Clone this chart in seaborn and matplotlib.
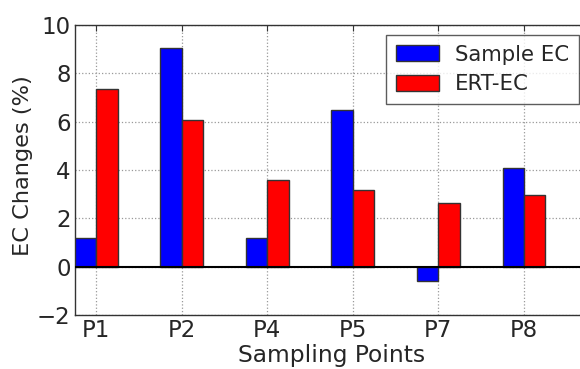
import matplotlib
matplotlib.use("Agg")
import matplotlib.pyplot as plt
import seaborn as sns
import pandas as pd

points = ["P1", "P2", "P4", "P5", "P7", "P8"]
sample_ec = [1.2, 9.05, 1.2, 6.5, -0.58, 4.07]
ert_ec = [7.37, 6.06, 3.61, 3.17, 2.64, 2.95]
series_names = ["Sample EC", "ERT-EC"]
series_colors = ["#0000ff", "#ff0000"]
y_ticks = [-2, 0, 2, 4, 6, 8, 10]

df = pd.DataFrame({
    "point": points * 2,
    "value": sample_ec + ert_ec,
    "series": [series_names[0]] * len(points) + [series_names[1]] * len(points),
})

sns.set_style("white")
plt.rcParams["font.family"] = ["DejaVu Sans"]
plt.rcParams["font.size"] = 16.5

fig = plt.figure(figsize=(5.8, 3.69), dpi=100)
ax = fig.add_axes([0.129, 0.146, 0.885, 0.786])

sns.barplot(data=df, x="point", y="value", hue="series", order=points,
            hue_order=series_names, palette=dict(zip(series_names, series_colors)),
            width=0.5, gap=0, edgecolor="#333333", linewidth=1.0,
            saturation=1, ax=ax, zorder=3)

ax.axhline(0, color="black", lw=1.5, zorder=4)
ax.set_xlim(-0.25, 5.75)
ax.set_ylim(-2, 10)
ax.set_yticks(y_ticks)
ax.set_yticklabels(["\u22122" if t < 0 else str(t) for t in y_ticks])
ax.grid(True, linestyle=":", color="#999999", lw=0.9, zorder=0)
ax.set_axisbelow(True)
for s in ax.spines.values():
    s.set_color("#333333")
    s.set_linewidth(1.0)
ax.tick_params(axis="both", direction="in", length=4, labelsize=16.5, pad=3,
               top=True, right=True, color="#333333")
ax.set_xlabel("Sampling Points", fontsize=16.8, labelpad=1)
ax.set_ylabel("EC Changes (%)", fontsize=16.2)
ax.yaxis.set_label_coords(-0.082, 0.517)

leg = ax.legend(loc="upper right", bbox_to_anchor=(579 / 580, 1 - 35 / 369),
                bbox_transform=fig.transFigure, borderaxespad=0, fontsize=15.3,
                frameon=True, fancybox=False, edgecolor="#333333",
                handlelength=2.05, handleheight=0.77, borderpad=0.46,
                labelspacing=0.45, handletextpad=0.75)
leg.get_frame().set_linewidth(1.0)

fig.savefig("out.png", dpi=100)
